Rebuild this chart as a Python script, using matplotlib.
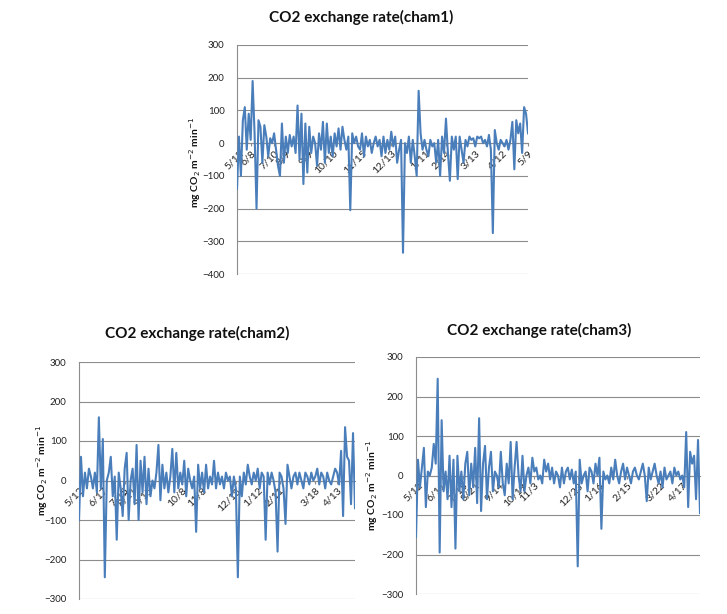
import numpy as np
import matplotlib.pyplot as plt

plt.rcParams['font.family'] = ['Lato', 'DejaVu Sans']

# chamber 1 flux values (mg CO2 m-2 min-1)
cham1 = [-140, 20, -100, 70, 110, -20, 90, 10, 190, 30,
         -200, 70, 50, -60, 55, 20, -40, 15, 0, 30,
         -20, -70, -100, 60, -60, 20, -30, 25, -10, 20,
         -30, 115, -50, 90, -125, 60, -90, 50, -30, 20,
         0, -70, 30, -20, 65, -60, 60, -30, 20, -40,
         30, -10, 45, -20, 50, 10, -20, 20, -205, 30,
         0, 20, -10, -20, 30, -40, 20, -10, 10, -30,
         0, 20, -10, 10, -40, 20, -30, 10, -20, 35,
         -10, 20, -60, -20, 10, -335, 0, -30, 20, -60,
         10, -40, -100, 160, 30, -20, 10, -20, -40, 10,
         -10, 0, -60, 10, -100, 20, -30, 75, -30, -115,
         20, -20, 20, -110, 20, -20, -60, 10, -10, 20,
         10, 15, -10, 20, 15, 20, 0, 10, -10, 25,
         -20, -275, 40, 0, -20, 10, 0, -10, 10, -20,
         10, 65, -80, 70, 30, 60, -30, 110, 90, 30]
ticks1 = [1, 7, 19, 25, 37, 49, 64, 79, 96, 107, 122, 136, 149]
labels1 = ['5/12', '6/8', '7/10', '8/9', '9/9', '10/10', '11/15', '12/13',
           '1/11', '2/14', '3/13', '4/12', '5/9']

cham2 = [-100, 60, -40, 20, -20, 30, 10, -20, 20, -30,
         160, -20, 105, -245, 0, 20, 60, -40, 10, -150,
         20, -20, -90, 30, 70, -100, 0, 30, -60, 90,
         -100, 50, -30, 60, -60, 30, -40, 0, -20, 20,
         90, -50, 40, -20, 20, -30, 10, 80, -30, 70,
         -20, 20, -10, 50, -40, 30, 0, -20, 10, -130,
         40, -20, 20, -30, 40, -20, 10, -10, 50, -20,
         20, -10, 10, -20, 20, 0, 10, -40, 10, -20,
         -245, 10, -40, 20, -10, 40, 10, -10, 20, 0,
         30, -20, 20, 10, -150, 20, -10, 20, 0, -30,
         -180, 20, 10, -20, -110, 40, 10, -20, 10, 20,
         -10, 20, 0, -20, 20, 10, -10, 20, 0, 10,
         30, -10, 20, 10, -20, 20, 0, -10, 10, 30,
         20, -10, 75, -90, 135, 60, 50, -60, 120, -70]
ticks2 = [0, 12, 23, 27, 35, 52, 62, 79, 90, 101, 119, 130]
labels2 = ['5/12', '6/17', '7/15', '8/21', '9/15', '10/8', '11/8', '12/18',
           '1/12', '2/11', '3/18', '4/13']

cham3 = [-155, 40, -30, 20, 70, -80, 10, 0, 20, 80,
         30, 245, -195, 140, -40, 10, -60, 50, -80, 40,
         -185, 50, -40, 10, -60, 30, 60, -50, 30, -30,
         70, -70, 145, -90, 30, 75, -60, 20, 60, -40,
         10, 0, -30, 60, -20, -50, 30, -20, 85, -60,
         20, 85, 0, -40, 50, -40, 0, 20, -20, 45,
         10, 20, -10, 0, -20, 40, 10, 30, -10, 20,
         -20, 10, 0, -30, 20, -20, 10, 20, -10, 15,
         -20, 10, -230, 40, -20, 0, 10, -40, 20, 10,
         -20, 30, 0, 45, -135, 10, -10, 0, -20, 20,
         -10, 40, 0, -20, 10, 30, -10, 20, 0, -20,
         10, 20, 0, -10, 10, 30, 0, -65, 20, -10,
         10, 30, 0, -20, 10, -30, 20, -10, 0, 10,
         -20, 20, 0, 10, -10, 0, -30, 110, -80, 60,
         30, 50, -60, 90, -95]
ticks3 = [1, 13, 24, 30, 42, 54, 60, 82, 93, 107, 124, 135]
labels3 = ['5/12', '6/11', '7/15', '8/21', '9/14', '10/19', '11/3', '12/23',
           '1/16', '2/15', '3/22', '4/17']

W, H = 727, 614
fig = plt.figure(figsize=(W / 100, H / 100), dpi=100)

line_col = '#4a7ebb'
grid_col = '#8c8c8c'


def draw(box, vals, ticks, labels, ylim, title, title_xy, ylab_xy):
    l, t, r, b = box
    ax = fig.add_axes([l / W, 1 - b / H, (r - l) / W, (b - t) / H])
    x = np.arange(len(vals))
    ax.plot(x, vals, color=line_col, lw=1.5, zorder=3)
    ax.set_xlim(0, len(vals) - 1)
    ax.set_ylim(*ylim)
    ax.set_yticks(np.arange(ylim[0], ylim[1] + 1, 100))
    for v in np.arange(ylim[0], ylim[1] + 1, 100):
        ax.axhline(v, color=grid_col, lw=0.8, zorder=1)
    for s in ['top', 'right']:
        ax.spines[s].set_visible(False)
    ax.spines['left'].set_color(grid_col)
    ax.spines['left'].set_linewidth(0.8)
    ax.spines['bottom'].set_position(('data', 0))
    ax.spines['bottom'].set_color(grid_col)
    ax.spines['bottom'].set_linewidth(0.8)
    ax.tick_params(axis='y', length=0, pad=9, labelsize=7, labelcolor='#222222')
    ax.set_xticks(ticks)
    ax.set_xticklabels(labels, rotation=45, ha='right', va='top',
                       rotation_mode='anchor', fontsize=7.5, color='#222222')
    ax.tick_params(axis='x', length=2, color=grid_col, pad=2)
    fig.text(title_xy[0] / W, 1 - title_xy[1] / H, title, ha='center', va='center',
             fontsize=11, fontweight='bold', color='#111111')
    fig.text(ylab_xy[0] / W, 1 - ylab_xy[1] / H,
             r'mg CO$_2$ m$^{-2}$ min$^{-1}$', rotation=90, ha='center', va='center',
             fontsize=7.5, fontweight='bold', color='#111111')
    return ax


draw((237, 45, 528, 274), cham1, ticks1, labels1, (-400, 300),
     'CO2 exchange rate(cham1)', (361, 17), (195, 162))
draw((79, 362, 355, 599), cham2, ticks2, labels2, (-300, 300),
     'CO2 exchange rate(cham2)', (197, 333), (42, 470))
draw((416, 357, 700, 594), cham3, ticks3, labels3, (-300, 300),
     'CO2 exchange rate(cham3)', (539, 330), (372, 485))

fig.savefig('out.png', dpi=100)
